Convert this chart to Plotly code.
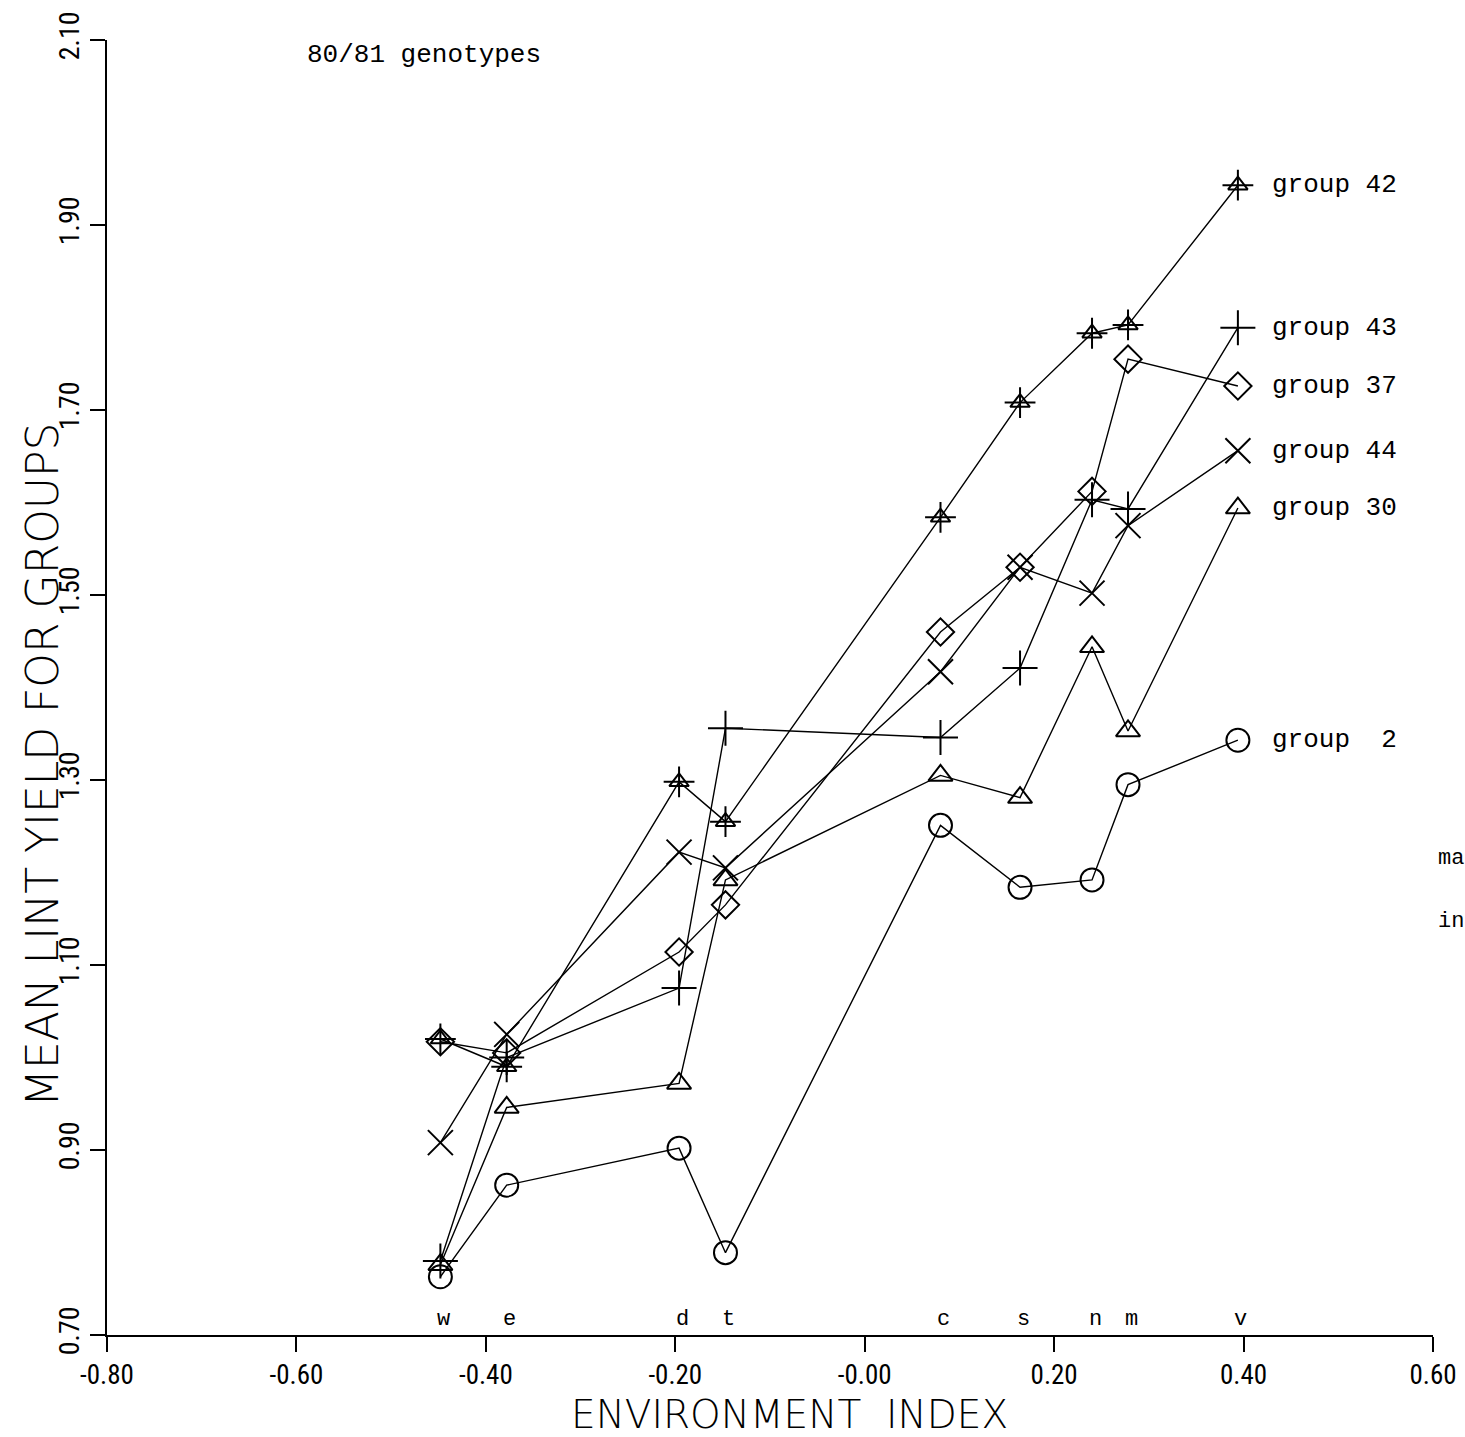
import plotly.graph_objects as go

# ---- data ----
env_labels = ["w", "e", "d", "t", "c", "s", "n", "m", "v"]
env_index = [-0.448, -0.378, -0.196, -0.147, 0.080, 0.164, 0.240, 0.278, 0.394]

group_names = ["group 42", "group 43", "group 37", "group 44", "group 30", "group\u00a0\u00a02"]
g42 = [1.020, 0.990, 1.298, 1.255, 1.584, 1.708, 1.783, 1.792, 1.943]
g43 = [0.780, 1.000, 1.075, 1.356, 1.346, 1.421, 1.603, 1.593, 1.789]
g37 = [1.017, 1.005, 1.114, 1.165, 1.460, 1.530, 1.612, 1.755, 1.726]
g44 = [0.908, 1.025, 1.222, 1.205, 1.417, 1.530, 1.502, 1.575, 1.656]
g30 = [0.776, 0.946, 0.972, 1.192, 1.305, 1.281, 1.444, 1.353, 1.594]
g2 = [0.763, 0.862, 0.902, 0.789, 1.251, 1.184, 1.192, 1.295, 1.343]

x_tickvals = [-0.80, -0.60, -0.40, -0.20, 0.00, 0.20, 0.40, 0.60]
x_ticktext = ["-0.80", "-0.60", "-0.40", "-0.20", "-0.00", "0.20", "0.40", "0.60"]
y_tickvals = [0.70, 0.90, 1.10, 1.30, 1.50, 1.70, 1.90, 2.10]
y_ticktext = ["0.70", "0.90", "1.10", "1.30", "1.50", "1.70", "1.90", "2.10"]

series = [g42, g43, g37, g44, g30, g2]
symbols = ["triangle-up-open", "cross-thin-open", "diamond-open", "x-thin-open",
           "triangle-up-open", "circle-open"]
sizes = [17, 25, 21, 25, 21, 23]

TICK_FONT = "Liberation Sans Narrow, Roboto Condensed, DejaVu Sans Condensed, Liberation Sans, sans-serif"
TITLE_FONT = "DejaVu Sans, sans-serif"
TYPE_FONT = "Liberation Mono, Courier New, DejaVu Sans Mono, monospace"

L, R, T, B = 107, 32, 40, 102
W, H = 1465, 1437
pw, ph = W - L - R, H - T - B


def px2paper(px, py):
    return (px - L) / pw, (H - B - py) / ph


fig = go.Figure()
for ys, sym, sz in zip(series, symbols, sizes):
    fig.add_trace(go.Scatter(
        x=env_index, y=ys, mode="lines+markers",
        line=dict(color="black", width=1.4),
        marker=dict(symbol=sym, size=sz, color="black",
                    line=dict(color="black", width=2)),
        showlegend=False, hoverinfo="skip"))
# extra cross on group 42's symbol
fig.add_trace(go.Scatter(
    x=env_index, y=g42, mode="markers",
    marker=dict(symbol="cross-thin-open", size=22, color="black",
                line=dict(color="black", width=2)),
    showlegend=False, hoverinfo="skip"))

annotations = []
for name, ys in zip(group_names, series):
    annotations.append(dict(x=env_index[-1], y=ys[-1], xref="x", yref="y",
                            text=name, showarrow=False, xanchor="left",
                            yanchor="middle", xshift=32,
                            font=dict(family=TYPE_FONT, size=26, color="black")))
for lab, xv in zip(env_labels, env_index):
    annotations.append(dict(x=xv, y=0.70, xref="x", yref="y", text=lab,
                            showarrow=False, xanchor="center", yanchor="bottom",
                            yshift=1, xshift=3,
                            font=dict(family=TYPE_FONT, size=22, color="black")))

gx, gy = px2paper(305, 55)
annotations.append(dict(x=gx, y=gy, xref="paper", yref="paper", text="80/81 genotypes",
                        showarrow=False, xanchor="left", yanchor="middle",
                        font=dict(family=TYPE_FONT, size=26, color="black")))
tx, ty = px2paper(790, 1414)
annotations.append(dict(x=tx, y=ty, xref="paper", yref="paper",
                        text="ENVIRONMENT\u00a0\u00a0INDEX", showarrow=False,
                        xanchor="center", yanchor="middle",
                        font=dict(family=TITLE_FONT, size=39, color="black", weight=200)))
yx, yy = px2paper(42, 765)
annotations.append(dict(x=yx, y=yy, xref="paper", yref="paper",
                        text="MEAN LINT YIELD FOR GROUPS", showarrow=False, textangle=-90,
                        xanchor="center", yanchor="middle",
                        font=dict(family=TITLE_FONT, size=44, color="black", weight=200)))
for txt, py in (("ma", 858), ("in", 922)):
    ax, ay = px2paper(1436, py)
    annotations.append(dict(x=ax, y=ay, xref="paper", yref="paper", text=txt,
                            showarrow=False, xanchor="left", yanchor="middle",
                            font=dict(family=TYPE_FONT, size=22, color="black")))

fig.update_layout(
    width=W, height=H,
    margin=dict(l=L, r=R, t=T, b=B, autoexpand=False),
    paper_bgcolor="white", plot_bgcolor="white",
    showlegend=False,
    annotations=annotations,
    xaxis=dict(range=[-0.80, 0.60], tickvals=x_tickvals, ticktext=x_ticktext,
               showgrid=False, zeroline=False, showline=True, linecolor="black",
               linewidth=2, ticks="outside", ticklen=15, tickwidth=2,
               tickcolor="black", automargin=False,
               tickfont=dict(family=TICK_FONT, size=27, color="black")),
    yaxis=dict(range=[0.70, 2.10], tickvals=y_tickvals, ticktext=y_ticktext,
               showgrid=False, zeroline=False, showline=True, linecolor="black",
               linewidth=2, ticks="outside", ticklen=15, tickwidth=2,
               tickcolor="black", tickangle=-90, automargin=False,
               tickfont=dict(family=TICK_FONT, size=28, color="black")),
)

fig.write_html("out.html")
